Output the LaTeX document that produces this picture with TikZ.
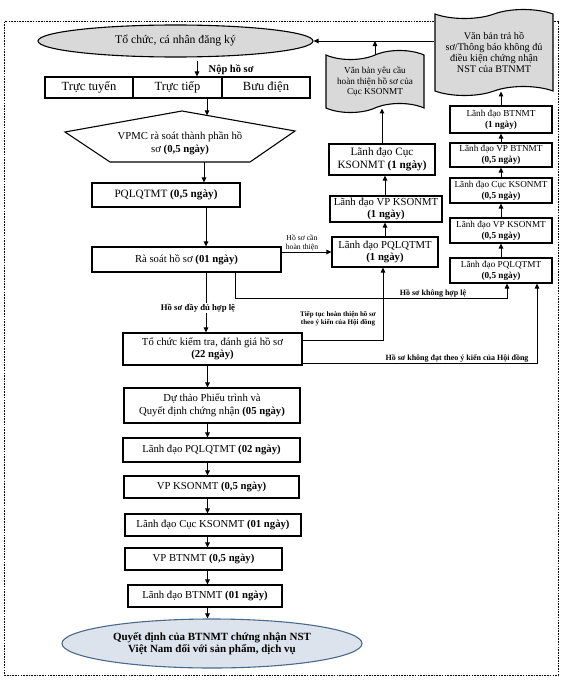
\documentclass[tikz,border=0pt]{standalone}
\usepackage{fontspec}
\setmainfont{Liberation Serif}
\usetikzlibrary{arrows.meta,shapes.geometric,shapes.symbols}
\definecolor{lgray}{HTML}{D9D9D9}
\definecolor{eblue}{HTML}{DCE3EC}
\definecolor{eborder}{HTML}{4A6A8C}
\begin{document}
\begin{tikzpicture}[x=1pt,y=-1pt,
  bx/.style={draw,line width=1.1pt,align=center,inner sep=1pt,fill=white,font=\fontsize{10.5}{12.5}\selectfont},
  rbx/.style={bx,minimum width=102pt,font=\fontsize{9.2}{11}\selectfont},
  mbx/.style={bx,font=\fontsize{10.7}{12.5}\selectfont},
  doc/.style={shape=tape,draw,line width=1.1pt,fill=lgray,align=center,inner sep=1pt,
    tape bend top=in and out,tape bend bottom=in and out,tape bend height=9pt},
  arr/.style={line width=1pt,-{Triangle[length=5pt,width=4.5pt]}},
  ln/.style={line width=1pt},
  lbl/.style={inner sep=0.5pt,align=center},
]
\useasboundingbox (0,0) rectangle (575,680);
% dashed frame
\draw[line width=0.7pt,dash pattern=on 1.6pt off 1.1pt] (4.5,21.5) rectangle (558,675);

% top ellipse
\node[bx,ellipse,fill=lgray,minimum width=275pt,minimum height=32pt,inner sep=0pt,
  font=\fontsize{11.7}{13}\selectfont] (top) at (175.5,41) {Tổ chức, cá nhân đăng ký};

% documents
\node[doc,minimum width=98pt,minimum height=62pt,font=\fontsize{9.2}{10.5}\selectfont] (doc1) at (375,81.5)
  {Văn bản yêu cầu\\hoàn thiện hồ sơ của\\Cục KSONMT};
\node[doc,minimum width=118pt,minimum height=86pt,font=\fontsize{10.2}{11.2}\selectfont] (doc2) at (494,52.5)
  {Văn bản trả hồ\\sơ/Thông báo không đủ\\điều kiện chứng nhận\\NST của BTNMT};

% submission row
\node[bx,minimum width=88pt,minimum height=21pt,font=\fontsize{12.5}{14}\selectfont] (r1) at (89,87.5) {Trực tuyến};
\node[bx,minimum width=89pt,minimum height=21pt,font=\fontsize{12.5}{14}\selectfont] (r2) at (177.5,87.5) {Trực tiếp};
\node[bx,minimum width=88pt,minimum height=21pt,font=\fontsize{12.5}{14}\selectfont] (r3) at (266,87.5) {Bưu điện};
\node[lbl,anchor=west,font=\bfseries\fontsize{10.5}{12}\selectfont] (noplbl) at (208,69.5) {Nộp hồ sơ};
\coordinate (nop) at (197,61);
\draw[arr] (nop) -- (nop |- r2.north);

% VPMC pentagon
\draw[line width=1.1pt,fill=white] (65,132) -- (182,111) -- (295,131) -- (250,162) -- (110,162) -- cycle;
\node[lbl,font=\fontsize{10.7}{13}\selectfont] (vpmc) at (180,143.5) {VPMC rà soát thành phần hồ\\sơ \textbf{(0,5 ngày)}};
\coordinate (vpmcT) at (207,115.4);
\coordinate (vpmcB) at (204,162);
\draw[arr] (r2.south -| vpmcT) -- (vpmcT);

\coordinate (c1) at (206,0);
\coordinate (c2) at (207.5,0);

% main column
\node[bx,minimum width=148pt,minimum height=24pt,font=\fontsize{11.2}{13}\selectfont] (pql) at (166,195) {PQLQTMT \textbf{(0,5 ngày)}};
\node[mbx,minimum width=189pt,minimum height=25pt] (ra) at (186.5,259.5) {Rà soát hồ sơ \textbf{(01 ngày)}};
\node[mbx,minimum width=179pt,minimum height=32pt] (tc) at (212.5,349) {Tổ chức kiểm tra, đánh giá hồ sơ\\\textbf{(22 ngày)}};
\node[mbx,minimum width=176pt,minimum height=35pt] (dt) at (212,405.5) {Dự thảo Phiếu trình và\\Quyết định chứng nhận \textbf{(05 ngày)}};
\node[mbx,minimum width=177pt,minimum height=24pt] (lp2) at (211.5,450) {Lãnh đạo PQLQTMT \textbf{(02 ngày)}};
\node[mbx,minimum width=175pt,minimum height=22pt] (vpk) at (211.5,487) {VP KSONMT \textbf{(0,5 ngày)}};
\node[mbx,minimum width=176pt,minimum height=22pt] (lc) at (213,525) {Lãnh đạo Cục KSONMT \textbf{(01 ngày)}};
\node[mbx,minimum width=157pt,minimum height=22pt] (vpb) at (203.5,559) {VP BTNMT \textbf{(0,5 ngày)}};
\node[mbx,minimum width=154pt,minimum height=22pt] (lb) at (205,596) {Lãnh đạo BTNMT \textbf{(01 ngày)}};
\node[bx,ellipse,fill=eblue,draw=eborder,minimum width=300pt,minimum height=49pt,inner sep=0pt,
  font=\bfseries\fontsize{11}{12.5}\selectfont] (end) at (212,643.5)
  {Quyết định của BTNMT chứng nhận NST\\Việt Nam đối với sản phẩm, dịch vụ};

\draw[arr] (vpmcB) -- (vpmcB |- pql.north);
\draw[arr] (pql.south -| c1) -- (ra.north -| c1);
\node[lbl,font=\bfseries\fontsize{8.7}{10}\selectfont] (hoso) at (198,308) {Hồ sơ đầy đủ hợp lệ};
\draw[ln] (ra.south -| c1) -- (c1 |- hoso.north);
\draw[arr] (c1 |- hoso.south) -- (c1 |- tc.north);
\draw[arr] (tc.south -| c2) -- (dt.north -| c2);
\draw[arr] (dt.south -| c2) -- (lp2.north -| c2);
\draw[arr] (lp2.south -| c2) -- (vpk.north -| c2);
\draw[arr] (vpk.south -| c2) -- (lc.north -| c2);
\draw[arr] (lc.south -| c2) -- (vpb.north -| c2);
\draw[arr] (vpb.south -| c2) -- (lb.north -| c2);
\draw[arr] (lb.south -| c2) -- (end.north -| c2);

% middle column
\node[bx,minimum width=106pt,minimum height=30pt,font=\fontsize{10.7}{12.5}\selectfont] (ldpql1) at (385,252) {Lãnh đạo PQLQTMT\\\textbf{(1 ngày)}};
\node[bx,minimum width=112pt,minimum height=26pt,font=\fontsize{10.7}{12.5}\selectfont] (ldvpk1) at (386,209) {Lãnh đạo VP KSONMT\\\textbf{(1 ngày)}};
\node[bx,minimum width=106pt,minimum height=31pt,font=\fontsize{11.2}{13}\selectfont] (ldcuc1) at (382,159.5) {Lãnh đạo Cục\\KSONMT \textbf{(1 ngày)}};
\draw[arr] (ra.east |- ldpql1.west) -- (ldpql1.west);
\node[lbl,font=\fontsize{7.7}{9}\selectfont] (canht) at (302,242.5) {Hồ sơ cần\\hoàn thiện};
\draw[arr] (ldpql1.north) -- (ldpql1.north |- ldvpk1.south);
\draw[arr] (ldvpk1.north -| ldpql1.north) -- (ldpql1.north |- ldcuc1.south);
\draw[arr] (ldcuc1.north) -- (ldcuc1.north |- doc1.south);
\draw[arr] (doc1.north) -- (doc1.north |- top.east);
\draw[arr] (doc2.west |- top.east) -- (top.east);

% right column
\node[rbx,minimum height=27pt] (rb1) at (501,119.5) {Lãnh đạo BTNMT\\\textbf{(1 ngày)}};
\node[rbx,minimum height=24pt] (rb2) at (501,155) {Lãnh đạo VP BTNMT\\\textbf{(0,5 ngày)}};
\node[rbx,minimum height=25pt] (rb3) at (501,190.5) {Lãnh đạo Cục KSONMT\\\textbf{(0,5 ngày)}};
\node[rbx,minimum height=25pt] (rb4) at (501,230.5) {Lãnh đạo VP KSONMT\\\textbf{(0,5 ngày)}};
\node[rbx,minimum height=25pt] (rb5) at (501,270.5) {Lãnh đạo PQLQTMT\\\textbf{(0,5 ngày)}};
\draw[arr] (rb5.north) -- (rb4.south);
\draw[arr] (rb4.north) -- (rb3.south);
\draw[arr] (rb3.north) -- (rb2.south);
\draw[arr] (rb2.north) -- (rb1.south);
\draw[arr] (rb1.north) -- (rb1.north |- doc2.south);

% return paths
\coordinate (k1) at (235,0);
\coordinate (k2) at (507,298);
\draw[arr] (ra.south -| k1) |- (k2) -- (rb5.south -| k2);
\node[lbl,font=\bfseries\fontsize{8}{9}\selectfont] (khl) at (433,293.5) {Hồ sơ không hợp lệ};

\coordinate (t1) at (383,340);
\draw[arr] (tc.east |- t1) -| (ldpql1.south -| t1);
\node[lbl,font=\bfseries\fontsize{7}{8.2}\selectfont] (tiep) at (338,319) {Tiếp tục hoàn thiện hồ sơ\\theo ý kiến của Hội đồng};

\coordinate (t2) at (537,363);
\draw[arr] (tc.east |- t2) -| (rb5.south -| t2);
\node[lbl,font=\bfseries\fontsize{8}{9}\selectfont] (kdat) at (457,358.5) {Hồ sơ không đạt theo ý kiến của Hội đồng};
\end{tikzpicture}
\end{document}
